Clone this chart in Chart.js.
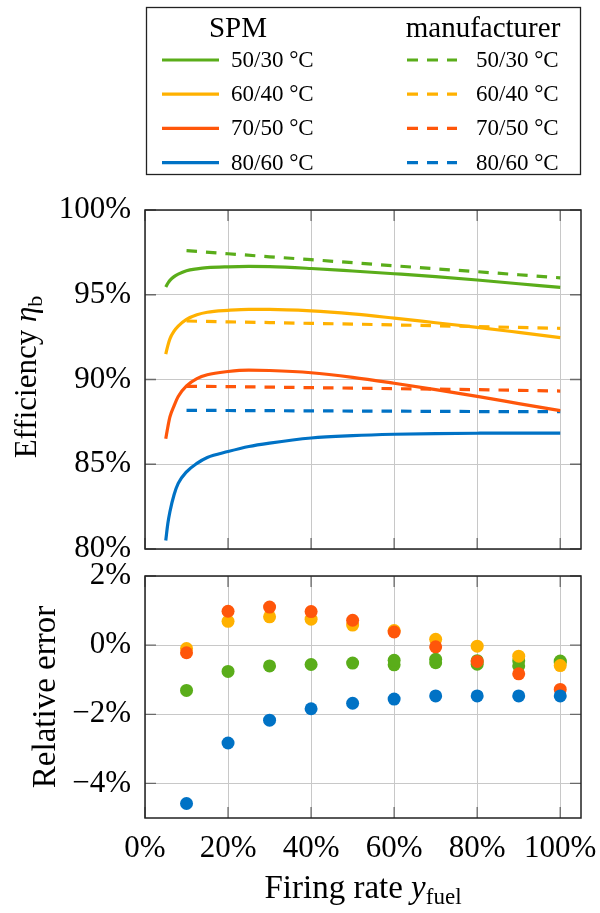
<!DOCTYPE html>
<html><head><meta charset="utf-8">
<script src="https://cdn.jsdelivr.net/npm/chart.js@4/dist/chart.umd.min.js"></script>
<style>
html,body{margin:0;padding:0;background:#fff;}
#wrap{position:relative;width:600px;height:913px;overflow:hidden;background:#fff;}
#cA{position:absolute;left:0;top:0;}
#cB{position:absolute;left:0;top:550px;}
</style></head><body>
<div id="wrap"><canvas id="cA" width="600" height="580"></canvas><canvas id="cB" width="600" height="363"></canvas></div>
<script>
// ---------- data ----------
const tempLabels = ['50/30 °C', '60/40 °C', '70/50 °C', '80/60 °C'];
const seriesColors = ['#5aad1a', '#ffb100', '#ff560a', '#0072c5'];

// SPM model efficiency (%) vs firing rate (%)
const spmRate = [5, 5.5, 6, 7, 8, 10, 12.5, 15, 20, 25, 30, 40, 50, 60, 70, 80, 90, 100];
const spm5030 = [95.45, 95.68, 95.85, 96.07, 96.22, 96.42, 96.53, 96.60, 96.65, 96.67, 96.66, 96.55, 96.40, 96.24, 96.07, 95.87, 95.65, 95.43];
const spm6040 = [91.50, 92.00, 92.40, 92.85, 93.15, 93.55, 93.82, 93.97, 94.08, 94.14, 94.14, 94.05, 93.87, 93.62, 93.35, 93.08, 92.78, 92.47];
const spm7050 = [86.50, 87.20, 87.80, 88.45, 89.00, 89.62, 90.05, 90.28, 90.47, 90.55, 90.53, 90.40, 90.13, 89.78, 89.40, 89.00, 88.58, 88.16];
const spm8060 = [80.50, 81.50, 82.20, 83.20, 83.87, 84.55, 85.05, 85.40, 85.75, 86.05, 86.25, 86.55, 86.69, 86.77, 86.81, 86.83, 86.84, 86.84];

// Manufacturer efficiency (%)
const manRate = [10, 20, 30, 40, 50, 60, 70, 80, 90, 100];
const man5030 = [97.60, 97.42, 97.24, 97.07, 96.89, 96.71, 96.53, 96.36, 96.18, 96.00];
const man6040 = [93.45, 93.40, 93.36, 93.31, 93.27, 93.22, 93.17, 93.12, 93.07, 93.02];
const man7050 = [89.60, 89.58, 89.55, 89.52, 89.49, 89.46, 89.43, 89.40, 89.36, 89.32];
const man8060 = [88.18, 88.17, 88.16, 88.15, 88.14, 88.13, 88.12, 88.11, 88.10, 88.10];

// Relative error (%)
const errRate = [10, 20, 30, 40, 50, 60, 70, 80, 90, 100];
const err5030 = [-1.31, -0.76, -0.60, -0.56, -0.52, -0.44, -0.41, -0.45, -0.45, -0.46];
const err5030b = [null, null, null, null, null, -0.57, -0.51, -0.55, -0.60, -0.50];
const err6040 = [-0.10, 0.69, 0.82, 0.75, 0.58, 0.42, 0.17, -0.03, -0.32, -0.59];
const err7050 = [-0.22, 0.98, 1.10, 0.97, 0.72, 0.38, -0.05, -0.47, -0.83, -1.28];
const err8060 = [-4.58, -2.83, -2.17, -1.84, -1.68, -1.56, -1.47, -1.47, -1.47, -1.47];

const xTicksVals = [0, 20, 40, 60, 80, 100];

// ---------- helpers ----------
const FF = '"Liberation Serif", "Times New Roman", serif';
Chart.defaults.font.family = FF;
const GRID = '#c8c8c8';
const pts = (xs, ys) => xs.map((x, i) => ({x: x, y: ys[i]})).filter(p => p.y !== null);
const pctLabel = v => (v < 0 ? '\u2212' + Math.abs(v) : String(v)) + '%';
const noPad = s => { s.paddingLeft = 0; s.paddingRight = 0; s.paddingTop = 0; s.paddingBottom = 0; };

function drawRich(ctx, parts, cx, cy, rot) {
  ctx.save();
  ctx.translate(cx, cy);
  ctx.rotate(rot);
  ctx.textBaseline = 'alphabetic';
  ctx.textAlign = 'left';
  ctx.fillStyle = '#000';
  let total = 0;
  parts.forEach(p => { ctx.font = p.font; p.w = ctx.measureText(p.t).width; total += p.w; });
  let x = -total / 2;
  parts.forEach(p => { ctx.font = p.font; ctx.fillText(p.t, x, p.dy || 0); x += p.w; });
  ctx.restore();
}

const framePlugin = {
  id: 'frame',
  beforeDatasetsDraw(chart) {
    const {ctx, chartArea: a, scales} = chart;
    ctx.save();
    ctx.strokeStyle = '#6a6a6a';
    ctx.lineWidth = 1.3;
    ctx.beginPath();
    scales.x.ticks.forEach(t => {
      const px = scales.x.getPixelForValue(t.value);
      ctx.moveTo(px, a.top); ctx.lineTo(px, a.top + 11);
      ctx.moveTo(px, a.bottom); ctx.lineTo(px, a.bottom - 11);
    });
    scales.y.ticks.forEach(t => {
      const py = scales.y.getPixelForValue(t.value);
      ctx.moveTo(a.left, py); ctx.lineTo(a.left + 11, py);
      ctx.moveTo(a.right, py); ctx.lineTo(a.right - 11, py);
    });
    ctx.stroke();
    ctx.restore();
  },
  afterDraw(chart) {
    const {ctx, chartArea: a} = chart;
    ctx.save();
    ctx.strokeStyle = '#222';
    ctx.lineWidth = 1.5;
    ctx.strokeRect(a.left, a.top, a.right - a.left, a.bottom - a.top);
    ctx.restore();
  }
};

// ---------- upper chart ----------
const spmSeries = [spm5030, spm6040, spm7050, spm8060];
const manSeries = [man5030, man6040, man7050, man8060];
const upperDatasets = [];
for (let i = 0; i < 4; i++) {
  upperDatasets.push({
    label: 'SPM ' + tempLabels[i],
    data: pts(spmRate, spmSeries[i]),
    borderColor: seriesColors[i], backgroundColor: seriesColors[i],
    borderWidth: 3.2, pointRadius: 0, cubicInterpolationMode: 'monotone', fill: false
  });
}
for (let i = 0; i < 4; i++) {
  upperDatasets.push({
    label: 'manufacturer ' + tempLabels[i],
    data: pts(manRate, manSeries[i]),
    borderColor: seriesColors[i], backgroundColor: seriesColors[i],
    borderWidth: 3.2, borderDash: [10.5, 9], pointRadius: 0, tension: 0, fill: false
  });
}

const legendPlugin = {
  id: 'twoColLegend',
  afterDraw(chart) {
    const ctx = chart.ctx;
    ctx.save();
    ctx.strokeStyle = '#222';
    ctx.lineWidth = 1.3;
    ctx.strokeRect(146.5, 7.5, 434, 167);
    ctx.fillStyle = '#000';
    ctx.textBaseline = 'alphabetic';
    ctx.font = '29px ' + FF;
    ctx.textAlign = 'center';
    ctx.fillText('SPM', 238, 37);
    ctx.fillText('manufacturer', 483, 37);
    ctx.font = '23px ' + FF;
    ctx.textAlign = 'left';
    for (let i = 0; i < 4; i++) {
      const base = 67 + i * 34.2;
      const ly = base - 7;
      ctx.strokeStyle = seriesColors[i];
      ctx.lineWidth = 3.2;
      ctx.setLineDash([]);
      ctx.beginPath(); ctx.moveTo(162, ly); ctx.lineTo(219, ly); ctx.stroke();
      ctx.setLineDash([11, 9]);
      ctx.beginPath(); ctx.moveTo(407, ly); ctx.lineTo(457, ly); ctx.stroke();
      ctx.setLineDash([]);
      ctx.fillText(tempLabels[i], 231, base);
      ctx.fillText(tempLabels[i], 476, base);
    }
    // y-axis title
    drawRich(ctx, [
      {t: 'Efficiency ', font: '31px ' + FF},
      {t: '\u03b7', font: 'italic 31px ' + FF},
      {t: 'b', font: '22px ' + FF, dy: 6}
    ], 36, 377, -Math.PI / 2);
    ctx.restore();
  }
};

new Chart(document.getElementById('cA'), {
  type: 'line',
  data: {datasets: upperDatasets},
  options: {
    responsive: false, animation: false, devicePixelRatio: 1,
    layout: {padding: {left: 0, right: 19, top: 210, bottom: 0}},
    plugins: {legend: {display: false}, tooltip: {enabled: false}},
    scales: {
      x: {
        type: 'linear', min: 0, max: 105,
        ticks: {display: false, stepSize: 20, includeBounds: false},
        grid: {color: GRID, lineWidth: 1, drawTicks: false},
        border: {display: false},
        afterFit: s => { s.height = 31; noPad(s); }
      },
      y: {
        type: 'linear', min: 80, max: 100,
        ticks: {stepSize: 5, padding: 14, color: '#000', font: {family: FF, size: 31}, callback: pctLabel},
        grid: {color: GRID, lineWidth: 1, drawTicks: false},
        border: {display: false},
        afterFit: s => { s.width = 145; noPad(s); }
      }
    }
  },
  plugins: [framePlugin, legendPlugin]
});

// ---------- lower chart ----------
const errSeries = [
  {d: err8060, c: 3}, {d: err7050, c: 2}, {d: err6040, c: 1}, {d: err5030, c: 0}, {d: err5030b, c: 0}
];
const lowerDatasets = errSeries.map(s => ({
  label: tempLabels[s.c],
  data: pts(errRate, s.d),
  backgroundColor: seriesColors[s.c], borderColor: seriesColors[s.c],
  pointRadius: 6.5, pointBorderWidth: 0, showLine: false
}));

const lowerTitles = {
  id: 'lowerTitles',
  afterDraw(chart) {
    const ctx = chart.ctx;
    drawRich(ctx, [{t: 'Relative error', font: '33px ' + FF}], 55, 147, -Math.PI / 2);
    drawRich(ctx, [
      {t: 'Firing rate ', font: '33px ' + FF},
      {t: 'y', font: 'italic 33px ' + FF},
      {t: 'fuel', font: '23px ' + FF, dy: 6}
    ], 363, 348, 0);
  }
};

new Chart(document.getElementById('cB'), {
  type: 'scatter',
  data: {datasets: lowerDatasets},
  options: {
    responsive: false, animation: false, devicePixelRatio: 1,
    layout: {padding: {left: 0, right: 19, top: 26, bottom: 0}},
    plugins: {legend: {display: false}, tooltip: {enabled: false}},
    scales: {
      x: {
        type: 'linear', min: 0, max: 105,
        afterBuildTicks: s => { s.ticks = xTicksVals.map(v => ({value: v})); },
        ticks: {stepSize: 20, includeBounds: false, autoSkip: false, maxRotation: 0, minRotation: 0,
                padding: 12, color: '#000', font: {family: FF, size: 31}, callback: pctLabel},
        grid: {color: GRID, lineWidth: 1, drawTicks: false},
        border: {display: false},
        afterFit: s => { s.height = 95; noPad(s); }
      },
      y: {
        type: 'linear', min: -5, max: 2,
        ticks: {stepSize: 2, includeBounds: false, padding: 14, color: '#000', font: {family: FF, size: 31}, callback: pctLabel},
        grid: {color: GRID, lineWidth: 1, drawTicks: false},
        border: {display: false},
        afterFit: s => { s.width = 145; noPad(s); }
      }
    }
  },
  plugins: [framePlugin, lowerTitles]
});
</script>
</body></html>
